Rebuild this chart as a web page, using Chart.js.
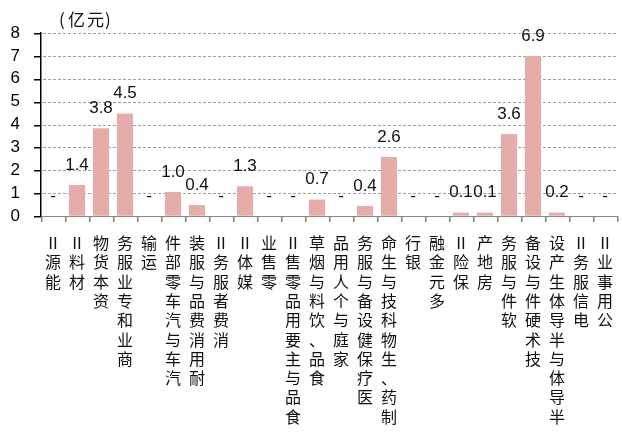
<!DOCTYPE html>
<html lang="zh">
<head>
<meta charset="UTF-8">
<title>行业金额</title>
<script src="https://cdn.jsdelivr.net/npm/chart.js@4.4.0/dist/chart.umd.min.js"></script>
<style>
    body { margin: 0; background: #fff; }
</style>
</head>
<body>
<canvas id="chart" width="622" height="437"></canvas>
<script>
// 行业分类
const categories = ['能源Ⅱ', '材料Ⅱ', '资本货物', '商业和专业服务', '运输', '汽车与汽车零部件',
    '耐用消费品与服装', '消费者服务Ⅱ', '媒体Ⅱ', '零售业', '食品与主要用品零售Ⅱ', '食品、饮料与烟草',
    '家庭与个人用品', '医疗保健设备与服务', '制药、生物科技与生命', '银行', '多元金融', '保险Ⅱ',
    '房地产', '软件与服务', '技术硬件与设备', '半导体与半导体生产设', '电信服务Ⅱ', '公用事业Ⅱ'];
// 柱高（亿元，按图估读）
const values = [0, 1.35, 3.83, 4.47, 0, 1.05, 0.47, 0, 1.29, 0, 0, 0.71,
    0, 0.44, 2.58, 0, 0, 0.14, 0.14, 3.57, 6.98, 0.14, 0, 0];
// 柱顶标注
const valueLabels = ['-', '1.4', '3.8', '4.5', '-', '1.0', '0.4', '-', '1.3', '-', '-', '0.7',
    '-', '0.4', '2.6', '-', '-', '0.1', '0.1', '3.6', '6.9', '0.2', '-', '-'];
const yTickValues = [0, 1, 2, 3, 4, 5, 6, 7, 8];
const unitText = '(亿元)';

const cjkFont = '"Noto Sans CJK SC", sans-serif';

// 网格、刻度、柱顶数值、竖排分类名、单位
const extras = {
    id: 'extras',
    afterDraw(chart) {
        const ctx = chart.ctx;
        const area = chart.chartArea;
        const xs = chart.scales.x;
        const ys = chart.scales.y;
        const meta = chart.getDatasetMeta(0);
        ctx.save();

        // 虚线网格
        ctx.fillStyle = '#9e9e9e';
        yTickValues.forEach(v => {
            if (v === 0) return;
            const y = Math.round(ys.getPixelForValue(v));
            for (let x = area.left + 2; x < area.right; x += 5) {
                ctx.fillRect(x, y, 3, 1);
            }
        });

        // 柱子盖在网格上面
        meta.data.forEach(bar => bar.draw(ctx));

        // y 轴刻度线
        ctx.fillStyle = '#000';
        yTickValues.forEach(v => {
            const y = Math.round(ys.getPixelForValue(v));
            ctx.fillRect(area.left - 7, y, 7, 1.5);
        });

        // x 轴刻度线
        const n = categories.length;
        const step = (xs.getPixelForValue(n - 1) - xs.getPixelForValue(0)) / (n - 1);
        ctx.fillStyle = '#808080';
        for (let i = 0; i <= n; i++) {
            const x = Math.round(xs.getPixelForValue(i) - step / 2);
            ctx.fillRect(x, area.bottom, 1.5, 6);
        }

        // 柱顶数值
        ctx.fillStyle = '#111';
        ctx.font = '17px "Liberation Sans", Arial, sans-serif';
        ctx.textAlign = 'center';
        ctx.textBaseline = 'middle';
        meta.data.forEach((bar, i) => {
            ctx.fillText(valueLabels[i], bar.x, bar.y - 20);
        });

        // 竖排分类名
        ctx.font = '16px ' + cjkFont;
        categories.forEach((cat, i) => {
            const x = xs.getPixelForValue(i);
            Array.from(cat).reverse().forEach((ch, k) => {
                ctx.fillText(ch, x, area.bottom + 27 + k * 19.3);
            });
        });

        // 单位
        ctx.textAlign = 'left';
        ctx.font = '17px ' + cjkFont;
        ctx.fillText('(', 59, 20);
        ctx.fillText('亿', 68, 20);
        ctx.fillText('元', 87, 20);
        ctx.fillText(')', 105, 20);
        ctx.restore();
    }
};

new Chart(document.getElementById('chart'), {
    type: 'bar',
    data: {
        labels: categories,
        datasets: [{
            data: values,
            backgroundColor: '#E6ACAA',
            borderWidth: 0,
            barPercentage: 0.67,
            categoryPercentage: 1.0
        }]
    },
    options: {
        responsive: false,
        animation: false,
        layout: { padding: { top: 33, left: 0, right: 5, bottom: 213 } },
        plugins: {
            legend: { display: false },
            tooltip: { enabled: false }
        },
        scales: {
            x: {
                ticks: { display: false },
                grid: { display: false },
                border: { color: '#888', width: 1 }
            },
            y: {
                min: 0,
                max: 8,
                afterFit(scale) { scale.width = 41; },
                ticks: {
                    autoSkip: false,
                    stepSize: 1,
                    color: '#000',
                    padding: 13,
                    font: { family: '"Liberation Sans", Arial, sans-serif', size: 17 }
                },
                grid: {
                    color: 'rgba(0,0,0,0)',
                    tickColor: 'rgba(0,0,0,0)',
                    tickLength: 8
                },
                border: { color: '#000', width: 1.5 }
            }
        }
    },
    plugins: [extras]
});
</script>
</body>
</html>
